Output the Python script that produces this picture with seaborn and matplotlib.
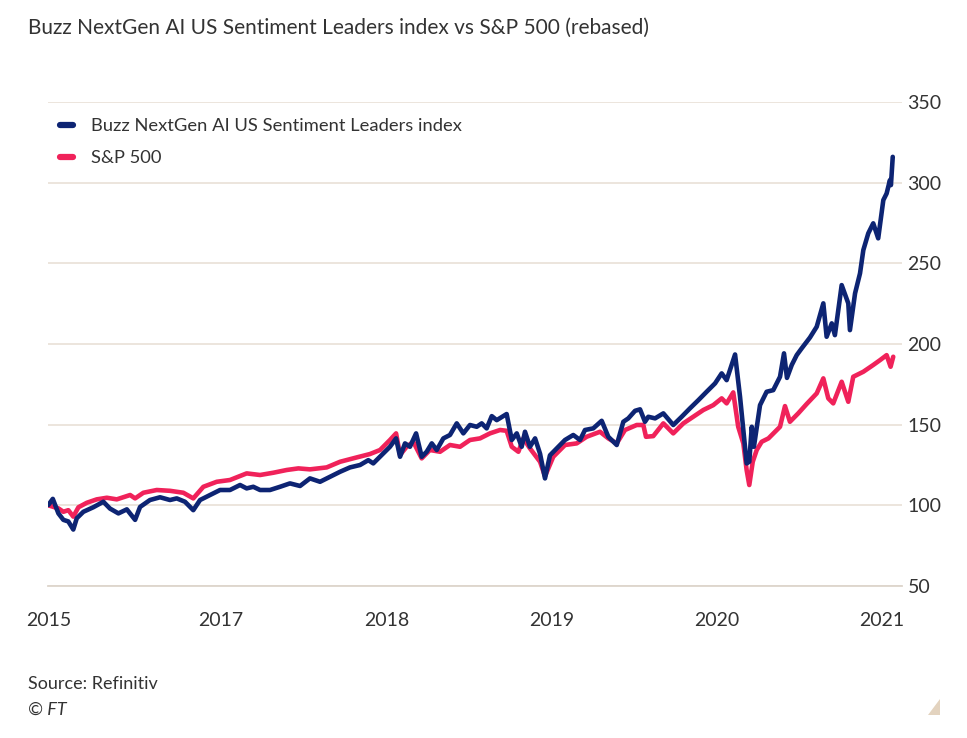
import numpy as np
import pandas as pd
import seaborn as sns
import matplotlib.pyplot as plt
from matplotlib.patches import Polygon
from matplotlib.lines import Line2D

# values (x in decimal years, y rebased index)
buzz_label = "Buzz NextGen AI US Sentiment Leaders index"
spx_label = "S&P 500"

buzz_t = [2015.955, 2015.982, 2016.016, 2016.046, 2016.076, 2016.106, 2016.127, 2016.167,
          2016.227, 2016.288, 2016.328, 2016.379, 2016.430, 2016.480, 2016.510, 2016.570,
          2016.631, 2016.691, 2016.732, 2016.782, 2016.832, 2016.873, 2016.933, 2016.994,
          2017.054, 2017.115, 2017.155, 2017.195, 2017.236, 2017.296, 2017.357, 2017.417,
          2017.478, 2017.538, 2017.599, 2017.659, 2017.720, 2017.780, 2017.841, 2017.891,
          2017.921, 2017.972, 2018.022, 2018.059, 2018.083, 2018.113, 2018.143, 2018.180,
          2018.214, 2018.244, 2018.275, 2018.305, 2018.345, 2018.385, 2018.426, 2018.466,
          2018.506, 2018.547, 2018.577, 2018.607, 2018.638, 2018.668, 2018.728, 2018.759,
          2018.789, 2018.819, 2018.839, 2018.869, 2018.900, 2018.930, 2018.960, 2018.990,
          2019.031, 2019.081, 2019.131, 2019.172, 2019.202, 2019.252, 2019.303, 2019.343,
          2019.394, 2019.434, 2019.464, 2019.505, 2019.535, 2019.565, 2019.585, 2019.626,
          2019.676, 2019.736, 2019.787, 2019.837, 2019.888, 2019.938, 2019.989, 2020.029,
          2020.059, 2020.110, 2020.140, 2020.160, 2020.180, 2020.196, 2020.211, 2020.224,
          2020.261, 2020.301, 2020.341, 2020.382, 2020.406, 2020.424, 2020.453, 2020.483,
          2020.513, 2020.563, 2020.604, 2020.644, 2020.664, 2020.695, 2020.714, 2020.755,
          2020.795, 2020.805, 2020.836, 2020.866, 2020.886, 2020.916, 2020.946, 2020.976,
          2021.007, 2021.027, 2021.047, 2021.053, 2021.064]
buzz_v = [100.2, 104.0, 95.0, 91.0, 90.0, 85.0, 92.0, 96.0,
          98.8, 102.2, 98.0, 95.0, 97.5, 91.0, 99.0, 103.3,
          105.0, 103.3, 104.3, 102.2, 97.0, 103.3, 106.4, 109.5,
          109.5, 112.6, 110.5, 111.5, 109.5, 109.5, 111.5, 113.6,
          112.0, 116.7, 114.6, 117.7, 120.8, 123.5, 125.0, 128.0,
          126.0, 131.2, 136.3, 141.5, 130.1, 138.4, 136.3, 144.6,
          130.1, 133.2, 138.4, 134.3, 141.5, 143.6, 150.8, 144.6,
          149.8, 148.7, 150.8, 147.7, 155.3, 152.8, 156.6, 140.5,
          144.6, 136.3, 145.6, 136.3, 141.5, 132.0, 116.7, 131.0,
          135.3, 140.5, 143.6, 140.5, 146.7, 147.7, 152.4, 142.5,
          137.4, 151.8, 153.9, 158.6, 159.5, 151.8, 154.9, 153.9,
          157.0, 149.8, 154.9, 160.1, 165.2, 170.4, 175.6, 181.8,
          177.6, 193.5, 167.3, 146.7, 126.0, 127.0, 148.7, 136.3,
          162.1, 170.4, 171.4, 179.7, 194.2, 179.0, 187.0, 193.1,
          197.3, 204.0, 210.7, 225.2, 204.5, 212.8, 205.5, 236.5,
          225.2, 208.6, 231.4, 243.8, 258.2, 268.6, 274.8, 265.5,
          289.2, 293.3, 301.6, 298.5, 316.0]

spx_t = [2015.955, 2016.016, 2016.046, 2016.076, 2016.106, 2016.137, 2016.188, 2016.248,
         2016.309, 2016.369, 2016.450, 2016.480, 2016.530, 2016.611, 2016.691, 2016.772,
         2016.832, 2016.893, 2016.974, 2017.054, 2017.155, 2017.236, 2017.316, 2017.397,
         2017.468, 2017.538, 2017.639, 2017.720, 2017.821, 2017.901, 2017.962, 2018.022,
         2018.059, 2018.083, 2018.123, 2018.163, 2018.214, 2018.264, 2018.325, 2018.385,
         2018.446, 2018.506, 2018.567, 2018.627, 2018.688, 2018.728, 2018.759, 2018.799,
         2018.829, 2018.869, 2018.930, 2018.960, 2019.010, 2019.081, 2019.152, 2019.212,
         2019.293, 2019.343, 2019.394, 2019.444, 2019.515, 2019.555, 2019.571, 2019.615,
         2019.676, 2019.736, 2019.797, 2019.857, 2019.918, 2019.978, 2020.029, 2020.059,
         2020.099, 2020.129, 2020.160, 2020.180, 2020.196, 2020.217, 2020.241, 2020.271,
         2020.312, 2020.382, 2020.412, 2020.442, 2020.492, 2020.543, 2020.604, 2020.644,
         2020.674, 2020.704, 2020.755, 2020.795, 2020.825, 2020.886, 2020.946, 2020.987,
         2021.027, 2021.051, 2021.067]
spx_v = [100.0, 98.1, 96.0, 97.0, 93.0, 98.8, 101.6, 103.7,
         104.7, 103.7, 106.4, 104.3, 107.8, 109.5, 109.0, 107.8,
         104.3, 111.5, 114.6, 115.7, 119.8, 118.8, 120.2, 121.9,
         122.9, 122.3, 123.5, 127.0, 129.7, 131.8, 134.3, 140.5,
         144.6, 131.2, 136.3, 139.4, 129.1, 134.3, 133.2, 137.4,
         136.3, 140.5, 141.5, 144.6, 146.7, 146.2, 136.3, 133.2,
         141.5, 135.3, 127.0, 118.0, 130.1, 137.4, 138.4, 142.5,
         145.6, 141.5, 138.4, 146.7, 149.8, 149.8, 142.5, 142.9,
         150.8, 144.6, 150.8, 154.9, 159.1, 162.1, 166.3, 163.2,
         170.0, 148.7, 138.4, 121.9, 112.6, 127.0, 134.3, 139.4,
         141.5, 148.7, 161.5, 151.8, 157.0, 162.8, 169.4, 178.7,
         166.3, 163.2, 176.6, 164.2, 179.7, 182.8, 187.0, 190.0,
         193.1, 185.9, 192.1]

year_ticks = [2015.955, 2017, 2018, 2019, 2020, 2021]
year_labels = ["2015", "2017", "2018", "2019", "2020", "2021"]
y_ticks = [50, 100, 150, 200, 250, 300, 350]

BLUE = "#0d2473"
RED = "#f0225a"
GRID = "#ebe3da"
TEXT = "#333333"

df = pd.concat([
    pd.DataFrame({"t": spx_t, "value": spx_v, "series": spx_label}),
    pd.DataFrame({"t": buzz_t, "value": buzz_v, "series": buzz_label}),
], ignore_index=True)

sns.set_theme(style="white")
plt.rcParams['font.family'] = ['Lato', 'DejaVu Sans']

fig = plt.figure(figsize=(9.67, 7.38), dpi=100)
ax = fig.add_axes([48 / 967, 1 - 586 / 738, 854 / 967, 484 / 738])

sns.lineplot(data=df, x="t", y="value", hue="series",
             hue_order=[spx_label, buzz_label], palette=[RED, BLUE],
             linewidth=3.3, estimator=None, legend=False, ax=ax)

ax.set_xlim(2015.953, 2021.12)
ax.set_ylim(50, 350)
ax.set_xlabel("")
ax.set_ylabel("")

# right-hand y axis with light gridlines
ax.yaxis.tick_right()
ax.set_yticks(y_ticks)
ax.set_yticklabels([str(v) for v in y_ticks])
ax.grid(axis="y", color=GRID, linewidth=1.3)
ax.grid(axis="x", visible=False)
ax.tick_params(axis="y", length=0, pad=4, labelsize=14, labelcolor=TEXT)

# monthly minor ticks, labelled year ticks
months = [y + m / 12 for y in range(2016, 2022) for m in range(12) if y + m / 12 < 2021.1]
ax.set_xticks(year_ticks)
ax.set_xticklabels(year_labels)
ax.set_xticks(months, minor=True)
ax.tick_params(axis="x", which="major", length=11, width=1, color="#d8d0c7",
               pad=8, labelsize=14, labelcolor=TEXT)
ax.tick_params(axis="x", which="minor", length=6, width=1, color="#d8d0c7")

for side in ["top", "right", "left"]:
    ax.spines[side].set_visible(False)
ax.spines["bottom"].set_color("#ddd5cc")
ax.spines["bottom"].set_linewidth(1.3)

handles = [Line2D([0], [0], color=BLUE, lw=4.5), Line2D([0], [0], color=RED, lw=4.5)]
ax.legend(handles, [buzz_label, spx_label], loc="upper left",
          bbox_to_anchor=(0.014, 0.967), frameon=False, borderpad=0, borderaxespad=0,
          handlelength=0.7, handletextpad=1.0, labelspacing=0.87, fontsize=13.2,
          labelcolor=TEXT)

fig.text(28 / 967, 1 - 28 / 738, "Buzz NextGen AI US Sentiment Leaders index vs S&P 500 (rebased)",
         fontsize=15, color=TEXT, va="center", ha="left")
fig.text(28 / 967, 1 - 684 / 738, "Source: Refinitiv", fontsize=13, color=TEXT, va="center")
fig.text(28 / 967, 1 - 710 / 738, "© FT", fontsize=13, color=TEXT, va="center", style="italic")

tri = Polygon([[928 / 967, 1 - 715 / 738], [940 / 967, 1 - 715 / 738], [940 / 967, 1 - 699 / 738]],
              closed=True, transform=fig.transFigure, facecolor="#e3d3bf", edgecolor="none")
fig.patches.append(tri)

fig.savefig("out.png", dpi=100, facecolor="white")
